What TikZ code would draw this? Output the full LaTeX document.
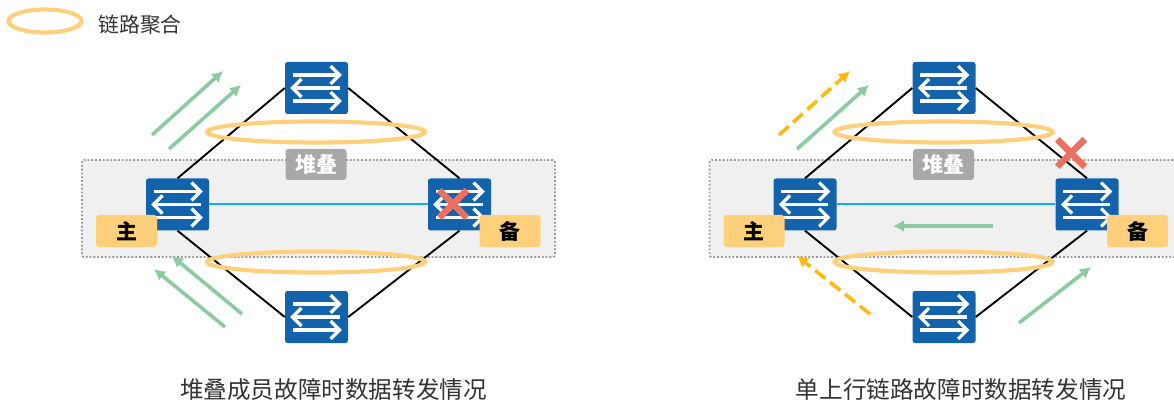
\documentclass[tikz,border=0pt]{standalone}
\usepackage{fontspec}
\usepackage{xcolor}
\setmainfont{Noto Sans CJK SC}
\usetikzlibrary{arrows.meta,positioning,shapes.geometric,shapes.misc}
\definecolor{switchblue}{HTML}{1263AC}
\definecolor{lagorange}{HTML}{FFD07C}
\definecolor{flowgreen}{HTML}{8CCBA0}
\definecolor{flowyellow}{HTML}{FFB90F}
\definecolor{crossred}{HTML}{EA7062}
\definecolor{linkblue}{HTML}{12B0F0}
\tikzset{%
	iconline/.style  = {draw=white, line width=3.2pt},
	switchbox/.style = {fill=switchblue, rounded corners=2.5pt, minimum width=63pt, minimum height=52pt, inner sep=0pt,
		path picture={
			\begin{scope}[shift={(path picture bounding box.center)}, sharp corners]
				\draw[iconline] (-24,-13) -- (23,-13);
				\draw[iconline] (14,-22) -- (23,-13) -- (14,-4);
				\draw[iconline] (23,0) -- (-24,0);
				\draw[iconline] (-15,-9) -- (-24,0) -- (-15,9);
				\draw[iconline] (-24,13) -- (23,13);
				\draw[iconline] (14,4) -- (23,13) -- (14,22);
			\end{scope}
		}},
	stackzone/.style = {draw=black!40, fill=black!6, dotted, line width=1.8pt, rounded corners=2pt, minimum width=473pt, minimum height=97pt},
	stackbadge/.style= {fill=black!34, text=white, font=\fontsize{21}{21}\selectfont\bfseries, rounded corners=3pt, minimum width=61pt, minimum height=31pt, inner sep=0pt},
	rolebadge/.style = {fill=lagorange, font=\fontsize{21}{21}\selectfont\bfseries, rounded corners=3pt, minimum width=61pt, minimum height=32pt, inner sep=0pt},
	lagring/.style   = {draw=lagorange, ellipse, line width=4.2pt, minimum width=218pt, minimum height=21pt, inner sep=0pt},
	uplink/.style    = {line width=1.9pt, black},
	stacklink/.style = {line width=2pt, linkblue},
	flow/.style      = {line width=3.6pt, flowgreen, -{Latex[length=11pt,width=12pt]}},
	backup/.style    = {line width=3.6pt, flowyellow, dash pattern=on 13pt off 6pt, -{Latex[length=11pt,width=12pt]}},
	crossmark/.style = {draw=crossred, cross out, line width=6.5pt, minimum size=21pt, inner sep=0pt},
	caption/.style   = {text=black!80, font=\fontsize{23.6}{24}\selectfont},
}
\begin{document}
\begin{tikzpicture}[x=1pt,y=-1pt]
	\useasboundingbox (0,0) rectangle (1174,403);
	% legend
	\node[lagring, minimum width=73pt, minimum height=23pt] (legendring) at (45,21) {};
	\node[text=black!80, font=\fontsize{20.8}{21}\selectfont, anchor=west] (legendtext) at (95,25) {链路聚合};
	% both panels
	\foreach \p/\dx in {a/0,b/627.5} {
		\node[stackzone] (zone\p) at (318.5+\dx,208.5) {};
		\node[switchbox] (top\p) at (316.5+\dx,88) {};
		\node[switchbox] (left\p) at (177.5+\dx,204.5) {};
		\node[switchbox] (right\p) at (459.5+\dx,204.5) {};
		\node[switchbox] (bot\p) at (316.5+\dx,317) {};
		\draw[uplink] (top\p.west) -- (left\p.north);
		\draw[uplink] (top\p.east) -- (right\p.north);
		\draw[uplink] (bot\p.west) -- (left\p.south);
		\draw[uplink] (bot\p.east) -- (right\p.south);
		\draw[stacklink] (left\p.east) -- (right\p.west);
		\node[lagring] (ringtop\p) at (316+\dx,132) {};
		\node[lagring] (ringbot\p) at (316+\dx,262) {};
		\node[stackbadge] (stack\p) at (316+\dx,164.5) {堆叠};
		\node[rolebadge] (main\p) at (126.5+\dx,231) {主};
		\node[rolebadge] (standby\p) at (510+\dx,231) {备};
	}
	% left panel: member failure
	\coordinate (fa1) at (152,135);  \coordinate (fa2) at (223,71);
	\coordinate (fa3) at (169,149);  \coordinate (fa4) at (241,85);
	\coordinate (fa5) at (242,314);  \coordinate (fa6) at (172,256);
	\coordinate (fa7) at (225,327);  \coordinate (fa8) at (154,269);
	\draw[flow] (fa1) -- (fa2);
	\draw[flow] (fa3) -- (fa4);
	\draw[flow] (fa5) -- (fa6);
	\draw[flow] (fa7) -- (fa8);
	\node[crossmark] (crossa) at (453,204) {};
	\node[caption] (captiona) at (333.5,390) {堆叠成员故障时数据转发情况};
	% right panel: single uplink failure
	\coordinate (fb1) at (779,135);  \coordinate (fb2) at (850,71);
	\coordinate (fb3) at (797,149);  \coordinate (fb4) at (869,85);
	\coordinate (fb5) at (993,226);  \coordinate (fb6) at (893,226);
	\coordinate (fb7) at (870,314);  \coordinate (fb8) at (797,256);
	\coordinate (fb9) at (1019,323); \coordinate (fb10) at (1091,267);
	\draw[backup] (fb1) -- (fb2);
	\draw[flow] (fb3) -- (fb4);
	\draw[flow] (fb5) -- (fb6);
	\draw[backup] (fb7) -- (fb8);
	\draw[flow] (fb9) -- (fb10);
	\node[crossmark] (crossb) at (1071,153) {};
	\node[caption] (captionb) at (961,390) {单上行链路故障时数据转发情况};
\end{tikzpicture}
\end{document}
